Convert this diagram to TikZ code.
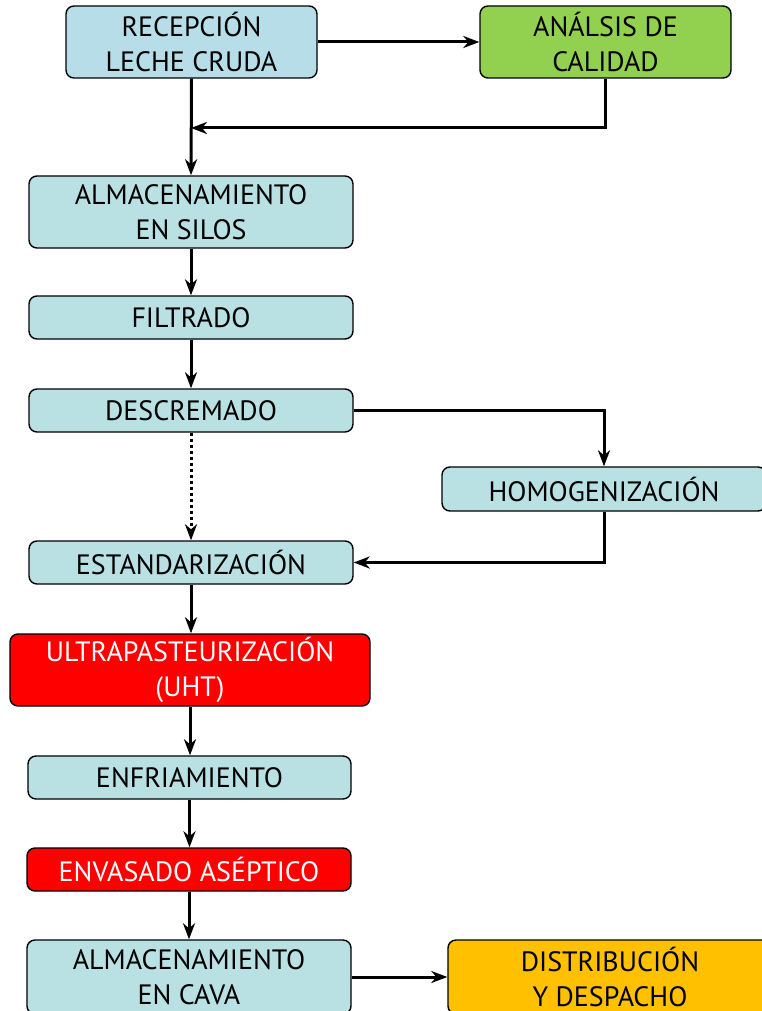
\documentclass[tikz,border=0pt]{standalone}
\usepackage{fontspec}
\setmainfont{PT Sans}
\usetikzlibrary{arrows.meta}
\definecolor{lblue}{RGB}{183,221,232}
\definecolor{teal}{RGB}{185,224,227}
\definecolor{lgreen}{RGB}{146,208,80}
\definecolor{bred}{RGB}{255,0,0}
\definecolor{orng}{RGB}{255,192,0}
\begin{document}
\begin{tikzpicture}[x=1pt,y=-1pt,
  box/.style={draw=black,line width=1.4pt,rounded corners=8pt,fill=teal,
    align=center,inner sep=0pt,font=\fontsize{28}{35}\selectfont},
  conn/.style={line width=3pt,-{Stealth[length=16pt,width=12pt,inset=5pt]}},
  dots/.style={conn,dash pattern=on 3pt off 3pt}]
\useasboundingbox (0,0) rectangle (762,1011);
\begin{scope}
\clip (0,0) rectangle (762,1011);
\node[box,fill=lblue,minimum width=251pt,minimum height=72pt] (rec) at (191.5,42) {RECEPCIÓN\\LECHE CRUDA};
\node[box,fill=lgreen,minimum width=251pt,minimum height=72pt] (ana) at (605.5,42) {ANÁLSIS DE\\CALIDAD};
\node[box,minimum width=324pt,minimum height=72pt] (sil) at (191,212) {ALMACENAMIENTO\\EN SILOS};
\node[box,minimum width=324pt,minimum height=43pt] (fil) at (191,317.5) {FILTRADO};
\node[box,minimum width=324pt,minimum height=43pt] (des) at (191,410.5) {DESCREMADO};
\node[box,minimum width=324pt,minimum height=44pt] (hom) at (604,489) {HOMOGENIZACIÓN};
\node[box,minimum width=324pt,minimum height=43pt] (est) at (191,562.5) {ESTANDARIZACIÓN};
\node[box,fill=bred,text=white,minimum width=360pt,minimum height=72pt] (uht) at (190,670) {ULTRAPASTEURIZACIÓN\\(UHT)};
\node[box,minimum width=323pt,minimum height=43pt] (enf) at (189.5,777.5) {ENFRIAMIENTO};
\node[box,fill=bred,text=white,minimum width=324pt,minimum height=43pt] (env) at (189,869.5) {ENVASADO ASÉPTICO};
\node[box,minimum width=324pt,minimum height=74pt] (cav) at (189,977) {ALMACENAMIENTO\\EN CAVA};
\node[box,fill=orng,minimum width=324pt,minimum height=74pt] (dis) at (610,977) {DISTRIBUCIÓN\\Y DESPACHO};
\end{scope}
\coordinate (j1) at (191,128);
\draw[conn] (rec.east) -- (ana.west);
\draw[conn] (rec.south) -- (sil.north);
\draw[conn] (ana.south) |- (j1);
\draw[conn] (sil.south) -- (fil.north);
\draw[conn] (fil.south) -- (des.north);
\draw[dots] (des.south) -- (est.north);
\draw[conn] (des.east) -| (hom.north);
\draw[conn] (hom.south) |- (est.east);
\draw[conn] (est.south) -- (est.south |- uht.north);
\draw[conn] (uht.south) -- (uht.south |- enf.north);
\draw[conn] (enf.south) -- (enf.south |- env.north);
\draw[conn] (env.south) -- (cav.north);
\draw[conn] (cav.east) -- (dis.west);
\end{tikzpicture}
\end{document}
